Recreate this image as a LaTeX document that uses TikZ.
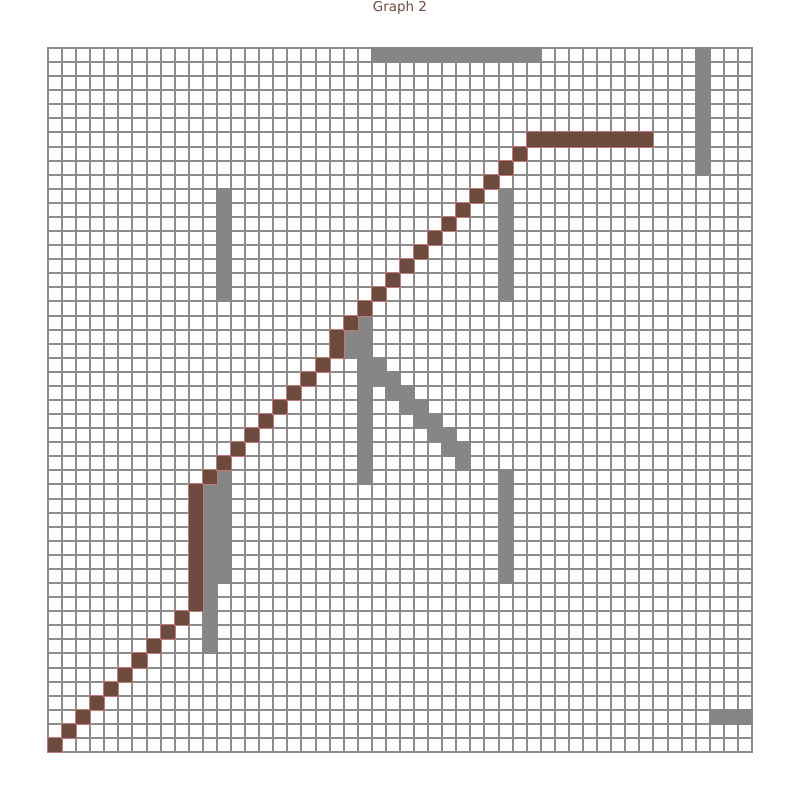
\documentclass[tikz,border=0pt]{standalone}
\usepackage{fontspec}
\setmainfont{DejaVu Sans}
\definecolor{brownc}{HTML}{6D4A3E}
\definecolor{grayc}{HTML}{868686}
\definecolor{gridc}{HTML}{8C8C8C}
\definecolor{edgec}{HTML}{BC7A7A}
\newcommand\cellpos[2]{\pgfmathsetmacro#1{round(48+14.08*(#2))}}
\newcommand\cellbox[4]{%
  \cellpos\xa{#1}\cellpos\ya{#2}\cellpos\xb{#3+1}\cellpos\yb{#4+1}%
  \pgfmathsetmacro\xa{\xa-1}\pgfmathsetmacro\ya{\ya-1}%
  \pgfmathsetmacro\xb{\xb+1}\pgfmathsetmacro\yb{\yb+1}}
\newcommand\grect[4]{\cellbox{#1}{#2}{#3}{#4}\fill[grayc] (\xa,\ya) rectangle (\xb,\yb);}
\newcommand\brect[4]{\cellbox{#1}{#2}{#3}{#4}%
  \fill[brownc] (\xa,\ya) rectangle (\xb,\yb);%
  \draw[edgec, line width=1bp] (\xa+0.5,\ya+0.5) rectangle (\xb-0.5,\yb-0.5);}
\begin{document}
\begin{tikzpicture}[x=1bp,y=-1bp]
\useasboundingbox (0,0) rectangle (800,800);
\fill[white] (0,0) rectangle (800,800);
\node[text=brownc, font=\fontsize{13.5}{16}\selectfont, inner sep=0pt] (title) at (400,8) {Graph 2};
% grid
\foreach \i in {0,...,50} {
  \cellpos\p{\i}
  \draw[gridc, line width=2bp] (47,\p) -- (753,\p);
  \draw[gridc, line width=2bp] (\p,47) -- (\p,753);
}
% gray cells
\grect{23}{0}{34}{0}
\grect{46}{0}{46}{8}
\grect{12}{10}{12}{17}
\grect{32}{10}{32}{17}
\grect{21}{20}{21}{21}
\grect{22}{19}{22}{30}
\foreach \c in {23,...,29} {
  \grect{\c}{\c}{\c}{\c}
  \pgfmathtruncatemacro\rr{\c-1}
  \grect{\c}{\rr}{\c}{\rr}
}
\grect{12}{30}{12}{37}
\grect{11}{31}{11}{42}
\grect{32}{30}{32}{37}
\grect{47}{47}{49}{47}
% brown path
\foreach \c in {0,...,9} {
  \pgfmathtruncatemacro\rr{49-\c}
  \brect{\c}{\rr}{\c}{\rr}
}
\brect{10}{31}{10}{39}
\foreach \c in {11,...,19} {
  \pgfmathtruncatemacro\rr{41-\c}
  \brect{\c}{\rr}{\c}{\rr}
}
\brect{20}{20}{20}{21}
\foreach \c in {21,...,33} {
  \pgfmathtruncatemacro\rr{40-\c}
  \brect{\c}{\rr}{\c}{\rr}
}
\brect{34}{6}{42}{6}
\end{tikzpicture}
\end{document}
